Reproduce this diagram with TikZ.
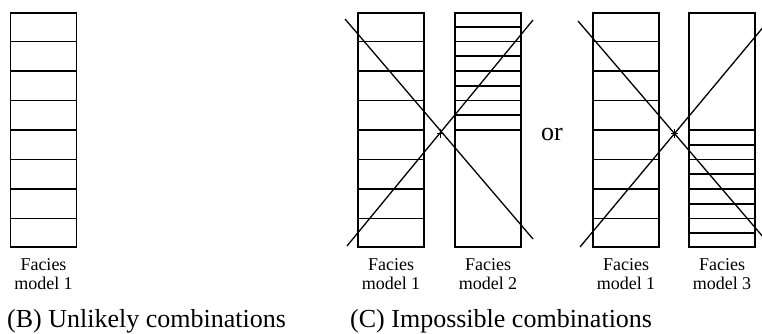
\documentclass[tikz,border=0pt]{standalone}
\usepackage{fontspec}
\setmainfont{Liberation Serif}
\usetikzlibrary{calc, positioning}

\begin{document}
\begin{tikzpicture}[x=1pt,y=-1pt,
  column/.style={draw, line width=1.9pt, minimum width=66pt, minimum height=234pt, inner sep=0pt},
  layer/.style={line width=1.6pt},
  crossline/.style={line width=1.3pt},
  labeltext/.style={inner sep=0pt, align=center, font=\fontsize{18}{19}\selectfont},
  captiontext/.style={inner sep=0pt, font=\fontsize{26}{28}\selectfont}]
\useasboundingbox (0,0) rectangle (762,334);
\clip (0,0) rectangle (762,334);

\node[column] (colB) at (43.5,130) {};
\node[column] (colCOne) at (391,130) {};
\node[column] (colCTwo) at (488,130) {};
\node[column] (colCThree) at (626,130) {};
\node[column] (colCFour) at (722,130) {};

% equal layers (facies model 1)
\foreach \c in {colB,colCOne,colCThree}
  \foreach \k in {1,...,7}
    \draw[layer] ($(\c.north west)!\k/8!(\c.south west)$) -- ($(\c.north east)!\k/8!(\c.south east)$);
% thin layers on top (model 2) and at the bottom (model 3)
\foreach \k in {1,...,8}
  \draw[layer] ($(colCTwo.north west)!\k/16!(colCTwo.south west)$) -- ($(colCTwo.north east)!\k/16!(colCTwo.south east)$);
\foreach \k in {8,...,15}
  \draw[layer] ($(colCFour.north west)!\k/16!(colCFour.south west)$) -- ($(colCFour.north east)!\k/16!(colCFour.south east)$);

% crossed out pairs
\coordinate (XOne) at (440,133);
\coordinate (XTwo) at (674,133);
\draw[crossline] (345,19) -- (533,239);
\draw[crossline] (347,246) -- (533,20);
\draw[crossline] (578,21) -- (770,245);
\draw[crossline] (580,247) -- (770,19);
\draw[line width=1pt] (XOne) +(-3.5,0) -- +(3.5,0) (XOne) +(0,-4.5) -- +(0,4.5);
\draw[line width=1pt] (XTwo) +(-3.5,0) -- +(3.5,0) (XTwo) +(0,-4.5) -- +(0,4.5);

\node[captiontext, anchor=base] (orC) at (552,140) {or};

\node[labeltext, below=10pt of colB] (labB) {Facies\\model 1};
\node[labeltext, below=10pt of colCOne] (labCOne) {Facies\\model 1};
\node[labeltext, below=10pt of colCTwo] (labCTwo) {Facies\\model 2};
\node[labeltext, below=10pt of colCThree] (labCThree) {Facies\\model 1};
\node[labeltext, below=10pt of colCFour] (labCFour) {Facies\\model 3};

\node[captiontext, anchor=base west] (capB) at (7,327) {(B) Unlikely combinations};
\node[captiontext, anchor=base west] (capC) at (350,327) {(C) Impossible combinations};
\end{tikzpicture}
\end{document}
